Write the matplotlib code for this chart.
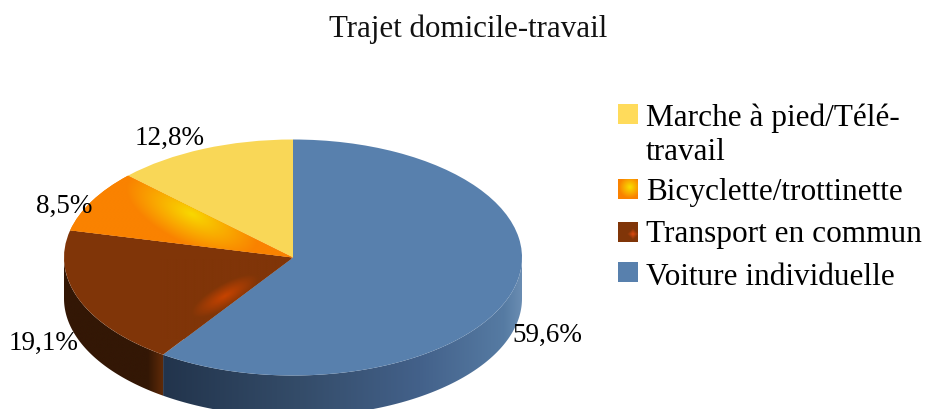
import numpy as np
import matplotlib
matplotlib.use('Agg')
import matplotlib.pyplot as plt
from matplotlib.patches import Polygon, Rectangle
from matplotlib.transforms import Affine2D

plt.rcParams['font.family'] = ['Liberation Serif', 'DejaVu Serif']

title = 'Trajet domicile-travail'
# clockwise from 12 o'clock
slices = ['Voiture individuelle', 'Transport en commun', 'Bicyclette/trottinette', 'Marche à pied/Télé-\ntravail']
values = [59.6, 19.1, 8.5, 12.8]
value_labels = ['59,6%', '19,1%', '8,5%', '12,8%']
colors = ['#5880ad', '#803508', '#fa8200', '#f9d757']
key_colors = ['#5880ad', '#803508', '#fa8200', '#ffdb5b']
legend_order = [3, 2, 1, 0]

CX, CY, RX, RY, DEPTH = 293, 258.5, 229, 118, 41


def hex_rgb(c):
    return np.array(matplotlib.colors.to_rgb(c))


def blend(c0, c1, t):
    t = np.clip(t, 0, 1)[..., None]
    return hex_rgb(c0) * (1 - t) + hex_rgb(c1) * t


def gradient(ax, extent, func, clip=None, zorder=3):
    x0, x1, y0, y1 = extent
    xx, yy = np.meshgrid(np.linspace(x0, x1, 300), np.linspace(y0, y1, 200))
    im = ax.imshow(func(xx, yy), extent=(x0, x1, y1, y0), origin='upper', aspect='auto',
                   interpolation='bilinear', zorder=zorder)
    if clip is not None:
        im.set_clip_path(clip)
    return im


def side_patch(ax, t0, t1):
    t = np.radians(np.linspace(t0, t1, 120))
    x = CX + RX * np.sin(t)
    y = CY - RY * np.cos(t)
    pts = np.column_stack([np.r_[x, x[::-1]], np.r_[y, y[::-1] + DEPTH]])
    p = Polygon(pts, closed=True, facecolor='none', edgecolor='none', zorder=1)
    ax.add_patch(p)
    return p


def blue_side(xx, yy):
    stops = [163, 300, 420, 505, 522]
    cols = np.array([hex_rgb(c) for c in ['#22344c', '#344c69', '#43618a', '#567ba3', '#6a8cb2']])
    return np.dstack([np.interp(xx, stops, cols[:, i]) for i in range(3)])


def brown_side(xx, yy):
    return blend('#331705', '#5f2a08', (xx - 148) / 15)


def orange_glow(xx, yy):
    # glow is stretched along the slice, down towards the pie centre
    u = ((xx - 192) * 0.9 + (yy - 215) * 0.44) / 72
    v = (-(xx - 192) * 0.44 + (yy - 215) * 0.9) / 30
    return blend('#f8d800', '#fa8200', np.hypot(u, v))


def brown_glow(xx, yy):
    # band lying along the edge of the blue slice
    u = ((xx - 225) * 0.87 - (yy - 297) * 0.5) / 38
    v = ((xx - 225) * 0.5 + (yy - 297) * 0.87) / 12
    return blend('#c74300', '#803508', np.hypot(u, v))


fig = plt.figure(figsize=(9.25, 4.1), dpi=100)
ax = fig.add_axes([0, 0, 1, 1])

wedges, _ = ax.pie(values, colors=colors, startangle=90, counterclock=False,
                   wedgeprops={'linewidth': 0})
ellipse = Affine2D().scale(RX, -RY).translate(CX, CY) + ax.transData
for w in wedges:
    w.set_transform(ellipse)
    w.set_zorder(2)

# slice angles come from the values
ends = np.cumsum(values) * 3.6
gradient(ax, (140, 530, 255, 410), blue_side, side_patch(ax, 90, ends[0]), zorder=1)
gradient(ax, (60, 170, 255, 410), brown_side, side_patch(ax, ends[0], 270), zorder=1)
gradient(ax, (60, 300, 170, 260), orange_glow, wedges[2])
gradient(ax, (160, 295, 260, 340), brown_glow, wedges[1])

ax.text(468.5, 29, title, ha='center', va='center', fontsize=22.3, color='#111111')

label_pos = [(547.5, 335), (44, 343), (64, 206), (170, 138)]
for txt, (x, y) in zip(value_labels, label_pos):
    ax.text(x, y, txt, ha='center', va='center', fontsize=19.5, color='black', zorder=5)

text_y = [135.5, 193, 235, 278]
for i, y in zip(legend_order, text_y):
    ax.text(646, y, slices[i], ha='left', va='center', fontsize=22.5, color='black',
            linespacing=1.24, zorder=5)

# legend keys
key_y = [105, 180, 223, 263]
for i, y in zip(legend_order, key_y):
    ax.add_patch(Rectangle((618, y), 20, 20, facecolor=key_colors[i], edgecolor='none', zorder=4))


def key_orange(xx, yy):
    return blend('#f8e000', '#fa8200', np.hypot(xx - 630, yy - key_y[1] - 8) / 11)


def key_brown(xx, yy):
    return blend('#e04a10', '#803508', (np.abs(xx - 633) + np.abs(yy - key_y[2] - 12)) / 6)


gradient(ax, (618, 638, key_y[1], key_y[1] + 20), key_orange, zorder=4.5)
gradient(ax, (618, 638, key_y[2], key_y[2] + 20), key_brown, zorder=4.5)

ax.set_aspect('auto')
ax.set_xlim(0, 925)
ax.set_ylim(410, 0)
ax.axis('off')

fig.savefig('out.png', dpi=100)
